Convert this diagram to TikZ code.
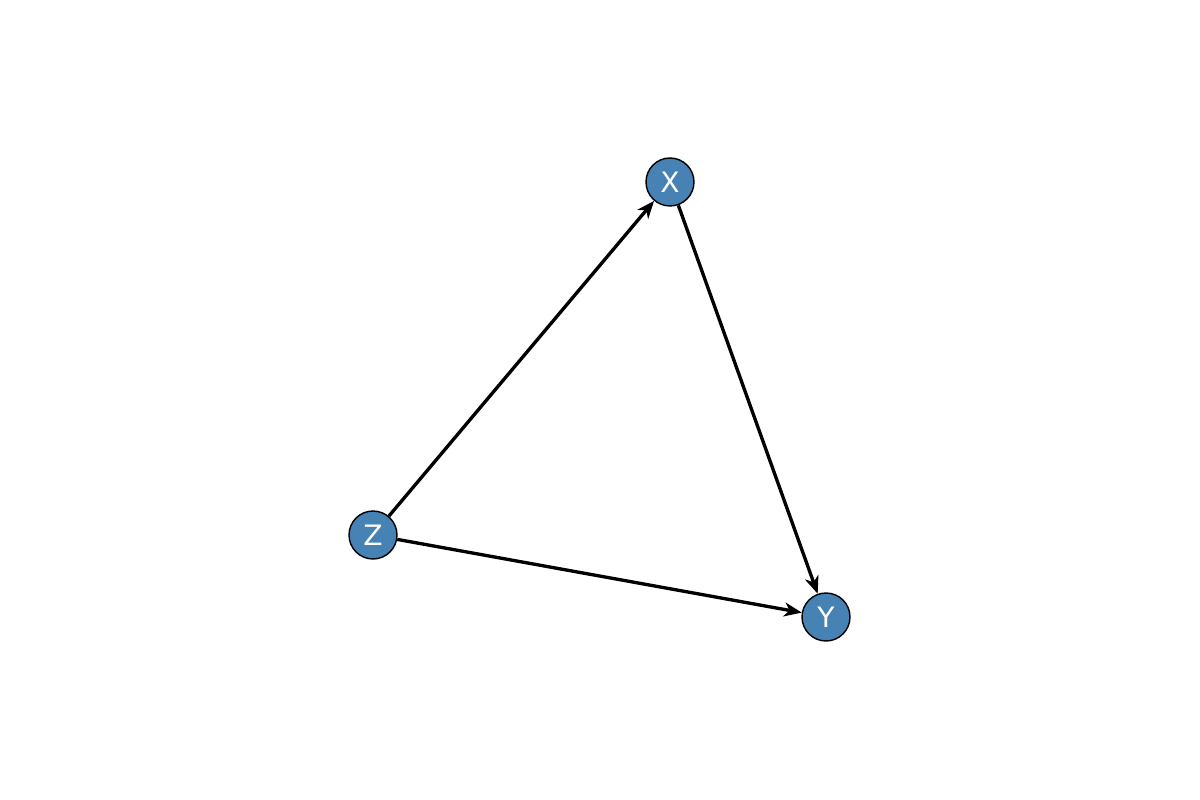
\documentclass[tikz,border=0pt]{standalone}
\usepackage{fontspec}
\setmainfont{DejaVu Sans}
\usetikzlibrary{arrows.meta}
\definecolor{nodeblue}{RGB}{70,130,180}
\begin{document}
\begin{tikzpicture}[x=0.02cm,y=-0.02cm,
  vertex/.style={circle,draw=black,line width=0.8pt,fill=nodeblue,text=white,minimum size=0.96cm,inner sep=0pt,font=\fontsize{16}{18}\selectfont},
  edge/.style={line width=1.9pt,-{Stealth[length=10pt,width=8pt,inset=3pt]},shorten >=0pt}]
\useasboundingbox (0,0) rectangle (1200,800);
\node[vertex] (X) at (670,182) {X};
\node[vertex] (Y) at (826,617) {Y};
\node[vertex] (Z) at (373,535) {Z};
\draw[edge] (Z) -- (X);
\draw[edge] (X) -- (Y);
\draw[edge] (Z) -- (Y);
\end{tikzpicture}
\end{document}
